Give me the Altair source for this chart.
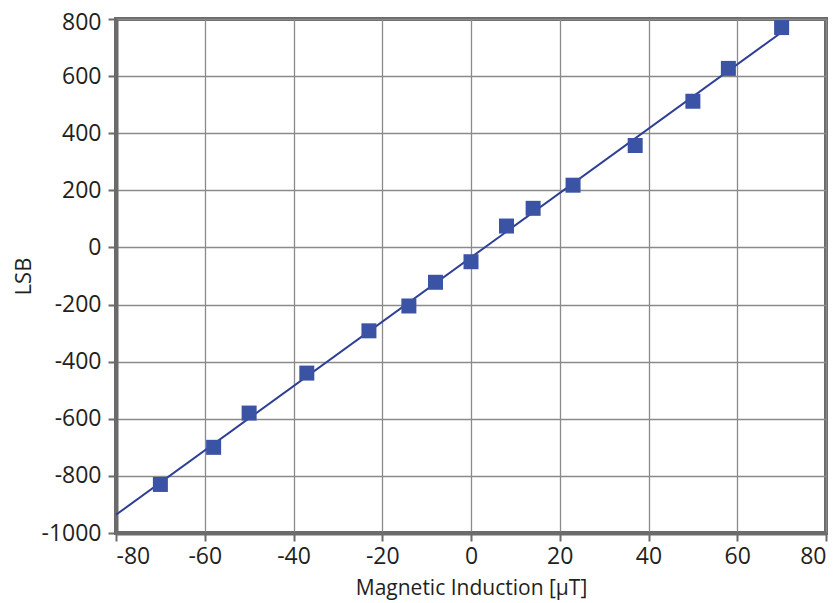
import altair as alt
import pandas as pd

field_uT = [-70, -58, -50, -37, -23, -14, -8, 0, 8, 14, 23, 37, 50, 58, 70]
lsb = [-830, -700, -580, -440, -292, -205, -122, -50, 75, 137, 218, 357, 512, 627, 770]
x_ticks = [-80, -60, -40, -20, 0, 20, 40, 60, 80]
y_ticks = [-1000, -800, -600, -400, -200, 0, 200, 400, 600, 800]

df = pd.DataFrame({"x": field_uT, "y": lsb})

FONT = "Open Sans"
xs = alt.Scale(domain=[-80, 80], nice=False)
ys = alt.Scale(domain=[-1000, 800], nice=False)

x_axis = alt.Axis(values=x_ticks, title="Magnetic Induction [µT]",
                  labelExpr="'' + datum.value", titlePadding=9, labelPadding=4,
                  titleFontSize=21)
y_axis = alt.Axis(values=y_ticks, title="LSB", labelExpr="'' + datum.value",
                  titlePadding=5, labelPadding=7, titleFontSize=22,
                  labelOffset={"condition": {"test": "datum.value == 800", "value": 3},
                               "value": 0})

base = alt.Chart(df)

line = base.transform_regression("x", "y", extent=[-80, 70]).mark_line(
    color="#2e3f95", strokeWidth=2
).encode(x=alt.X("x:Q", scale=xs, axis=x_axis), y=alt.Y("y:Q", scale=ys, axis=y_axis))

pts = base.mark_square(size=225, color="#3a53a4", opacity=1).encode(
    x=alt.X("x:Q", scale=xs), y=alt.Y("y:Q", scale=ys)
)

chart = (line + pts).properties(
    width=710, height=514,
    autosize=alt.AutoSizeParams(type="none"),
    padding={"left": 108, "top": 11, "right": 4, "bottom": 67},
).configure_view(
    stroke="#6b6b6b", strokeWidth=4
).configure_axis(
    labelFont=FONT, titleFont=FONT, labelFontSize=23,
    titleFontWeight="normal", labelColor="#231f20", titleColor="#231f20",
    domainColor="#6b6b6b", domainWidth=4, tickColor="#6b6b6b", tickWidth=2, tickSize=8,
    gridColor="#8a8a8a", gridWidth=1.3,
)

chart.save("out.html", embed_options={"renderer": "svg", "actions": False})
